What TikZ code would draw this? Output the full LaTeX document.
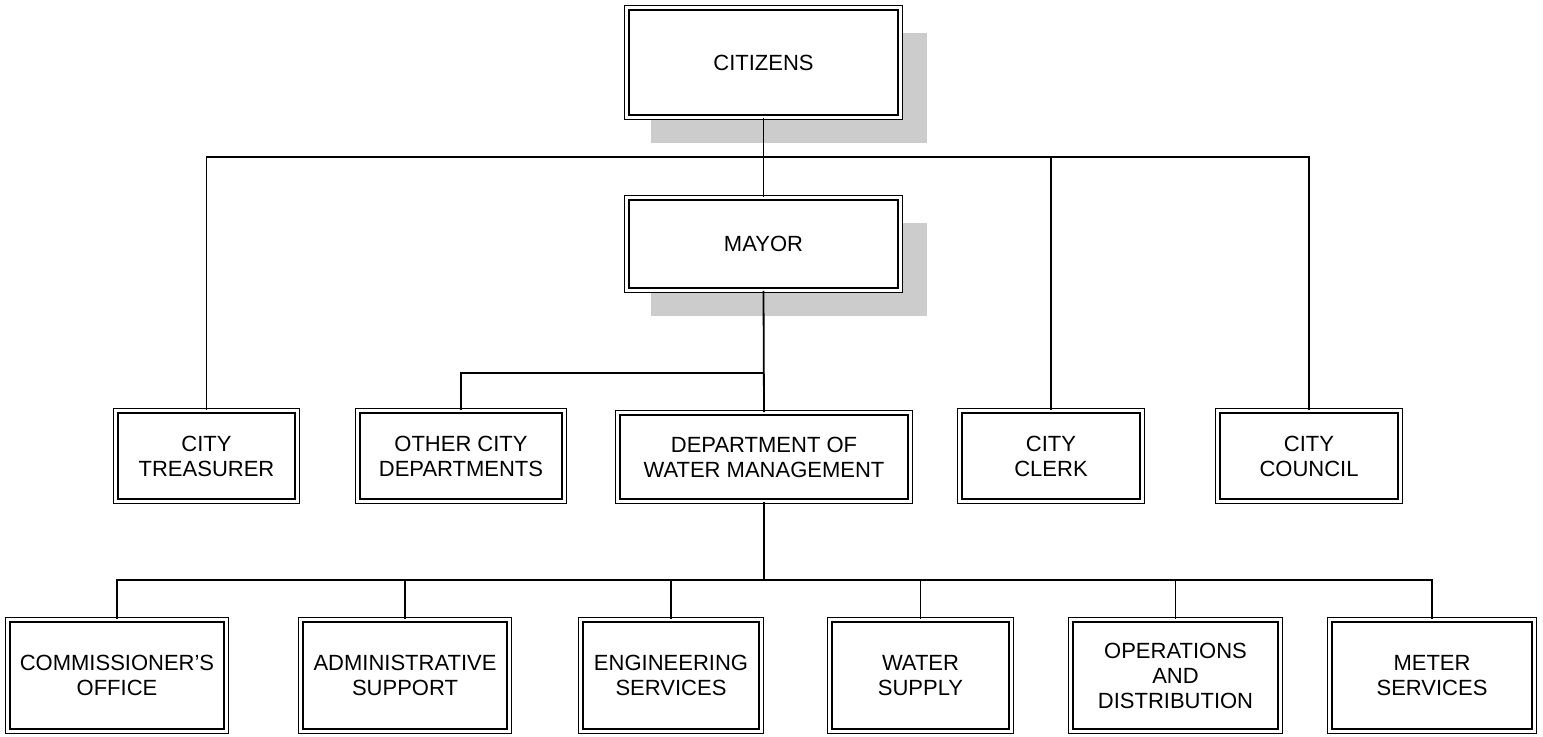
\documentclass[tikz,border=0pt]{standalone}
\usepackage{fontspec}
\setmainfont{Liberation Sans}
\usetikzlibrary{shadows}

\tikzset{
  orgbox/.style 2 args={draw, double, double distance=1.4pt, line width=0.7pt,
    fill=white, inner sep=0pt, align=center,
    minimum width=#1*0.5pt-2.8pt, minimum height=#2*0.5pt-2.8pt,
    font=\fontsize{11}{12.5}\selectfont},
  greyshadow/.style={drop shadow={shadow xshift=12.5pt, shadow yshift=-12.5pt,
    shadow scale=1.01, fill=black!20, opacity=1, draw=none}},
  link/.style={line width=0.9pt}
}

\begin{document}
\begin{tikzpicture}[x=0.5pt, y=-0.5pt]
      \useasboundingbox (0,0) rectangle (1543,736);

      % top of the chart
      \node[orgbox={279}{115}, greyshadow] (citizens) at (763.5, 62.5) {CITIZENS};
      \node[orgbox={279}{98}, greyshadow] (mayor) at (763.5, 244) {MAYOR};

      % middle row
      \node[orgbox={187}{96}] (treasurer) at (206.5, 456) {CITY\\TREASURER};
      \node[orgbox={212}{96}] (otherdepts) at (461, 456) {OTHER CITY\\DEPARTMENTS};
      \node[orgbox={298}{94}] (dwm) at (764, 457) {DEPARTMENT OF\\WATER MANAGEMENT};
      \node[orgbox={188}{96}] (clerk) at (1051, 456) {CITY\\CLERK};
      \node[orgbox={188}{96}] (council) at (1309, 456) {CITY\\COUNCIL};

      % bottom row
      \node[orgbox={224}{117}] (commish) at (117, 675.5) {COMMISSIONER'S\\OFFICE};
      \node[orgbox={214}{117}] (admin) at (405, 675.5) {ADMINISTRATIVE\\SUPPORT};
      \node[orgbox={186}{117}] (engin) at (671, 675.5) {ENGINEERING\\SERVICES};
      \node[orgbox={187}{117}] (supply) at (920.5, 675.5) {WATER\\SUPPLY};
      \node[orgbox={215}{117}] (opsdist) at (1175.5, 675.5) {OPERATIONS\\AND\\DISTRIBUTION};
      \node[orgbox={210}{117}] (meter) at (1432, 675.5) {METER\\SERVICES};

      \coordinate (topbar) at (763.5,157);
      \coordinate (midbar) at (764,373);
      \coordinate (lowbar) at (764,580);

      {
        \draw[link] (citizens.south) -- (mayor.north);
        \draw[link] (treasurer.north) |- (topbar) -| (council.north);
        \draw[link] (clerk.north) -- (clerk.north |- topbar);
      }

      {
        \draw[link] (mayor.south) -- (dwm.north);
        \draw[link] (otherdepts.north) |- (midbar);
      }

      {
        \draw[link] (dwm.south) -- (lowbar);
        \draw[link] (commish.north) |- (lowbar) -| (meter.north);
        \foreach \unit in {admin, engin, supply, opsdist}
          \draw[link] (\unit.north) -- (\unit.north |- lowbar);
      }
    \end{tikzpicture}
\end{document}
